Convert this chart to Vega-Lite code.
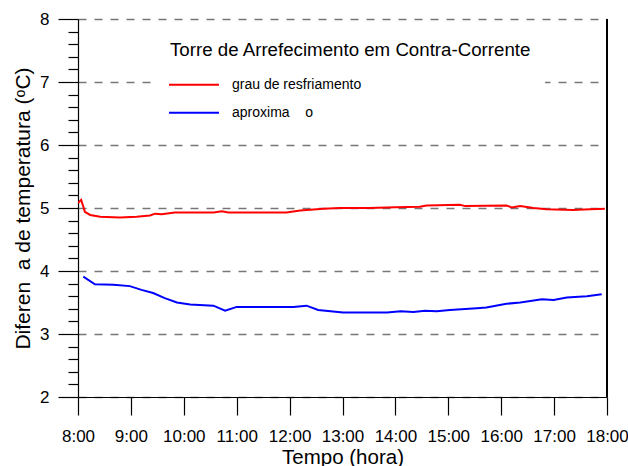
{
  "$schema": "https://vega.github.io/schema/vega-lite/v6.json",
  "width": 529,
  "height": 378,
  "autosize": "none",
  "padding": {"left": 78, "top": 19, "right": 21, "bottom": 69},
  "background": "white",
  "config": {
    "view": {"stroke": null},
    "font": "Liberation Sans"
  },
  "data": {
    "values": [
      {"t": 8.00, "v": 5.08, "serie": "grau de resfriamento"},
      {"t": 8.06, "v": 5.13, "serie": "grau de resfriamento"},
      {"t": 8.13, "v": 4.94, "serie": "grau de resfriamento"},
      {"t": 8.23, "v": 4.89, "serie": "grau de resfriamento"},
      {"t": 8.42, "v": 4.86, "serie": "grau de resfriamento"},
      {"t": 8.79, "v": 4.85, "serie": "grau de resfriamento"},
      {"t": 9.11, "v": 4.86, "serie": "grau de resfriamento"},
      {"t": 9.36, "v": 4.88, "serie": "grau de resfriamento"},
      {"t": 9.46, "v": 4.91, "serie": "grau de resfriamento"},
      {"t": 9.58, "v": 4.90, "serie": "grau de resfriamento"},
      {"t": 9.83, "v": 4.93, "serie": "grau de resfriamento"},
      {"t": 10.05, "v": 4.93, "serie": "grau de resfriamento"},
      {"t": 10.56, "v": 4.93, "serie": "grau de resfriamento"},
      {"t": 10.72, "v": 4.95, "serie": "grau de resfriamento"},
      {"t": 10.84, "v": 4.93, "serie": "grau de resfriamento"},
      {"t": 11.63, "v": 4.93, "serie": "grau de resfriamento"},
      {"t": 11.94, "v": 4.93, "serie": "grau de resfriamento"},
      {"t": 12.20, "v": 4.96, "serie": "grau de resfriamento"},
      {"t": 12.64, "v": 4.99, "serie": "grau de resfriamento"},
      {"t": 12.95, "v": 5.00, "serie": "grau de resfriamento"},
      {"t": 13.50, "v": 5.00, "serie": "grau de resfriamento"},
      {"t": 14.00, "v": 5.01, "serie": "grau de resfriamento"},
      {"t": 14.46, "v": 5.02, "serie": "grau de resfriamento"},
      {"t": 14.59, "v": 5.04, "serie": "grau de resfriamento"},
      {"t": 15.22, "v": 5.05, "serie": "grau de resfriamento"},
      {"t": 15.32, "v": 5.03, "serie": "grau de resfriamento"},
      {"t": 16.10, "v": 5.04, "serie": "grau de resfriamento"},
      {"t": 16.20, "v": 5.01, "serie": "grau de resfriamento"},
      {"t": 16.36, "v": 5.03, "serie": "grau de resfriamento"},
      {"t": 16.61, "v": 5.00, "serie": "grau de resfriamento"},
      {"t": 16.86, "v": 4.98, "serie": "grau de resfriamento"},
      {"t": 17.36, "v": 4.97, "serie": "grau de resfriamento"},
      {"t": 17.68, "v": 4.98, "serie": "grau de resfriamento"},
      {"t": 17.96, "v": 4.99, "serie": "grau de resfriamento"},
      {"t": 8.10, "v": 3.91, "serie": "aproxima\u00a0\u00a0\u00a0\u00a0o"},
      {"t": 8.32, "v": 3.79, "serie": "aproxima\u00a0\u00a0\u00a0\u00a0o"},
      {"t": 8.67, "v": 3.78, "serie": "aproxima\u00a0\u00a0\u00a0\u00a0o"},
      {"t": 8.98, "v": 3.76, "serie": "aproxima\u00a0\u00a0\u00a0\u00a0o"},
      {"t": 9.20, "v": 3.70, "serie": "aproxima\u00a0\u00a0\u00a0\u00a0o"},
      {"t": 9.42, "v": 3.65, "serie": "aproxima\u00a0\u00a0\u00a0\u00a0o"},
      {"t": 9.64, "v": 3.57, "serie": "aproxima\u00a0\u00a0\u00a0\u00a0o"},
      {"t": 9.87, "v": 3.50, "serie": "aproxima\u00a0\u00a0\u00a0\u00a0o"},
      {"t": 10.12, "v": 3.47, "serie": "aproxima\u00a0\u00a0\u00a0\u00a0o"},
      {"t": 10.56, "v": 3.45, "serie": "aproxima\u00a0\u00a0\u00a0\u00a0o"},
      {"t": 10.78, "v": 3.37, "serie": "aproxima\u00a0\u00a0\u00a0\u00a0o"},
      {"t": 11.00, "v": 3.43, "serie": "aproxima\u00a0\u00a0\u00a0\u00a0o"},
      {"t": 12.07, "v": 3.43, "serie": "aproxima\u00a0\u00a0\u00a0\u00a0o"},
      {"t": 12.32, "v": 3.45, "serie": "aproxima\u00a0\u00a0\u00a0\u00a0o"},
      {"t": 12.54, "v": 3.38, "serie": "aproxima\u00a0\u00a0\u00a0\u00a0o"},
      {"t": 13.01, "v": 3.34, "serie": "aproxima\u00a0\u00a0\u00a0\u00a0o"},
      {"t": 13.84, "v": 3.34, "serie": "aproxima\u00a0\u00a0\u00a0\u00a0o"},
      {"t": 14.10, "v": 3.36, "serie": "aproxima\u00a0\u00a0\u00a0\u00a0o"},
      {"t": 14.34, "v": 3.35, "serie": "aproxima\u00a0\u00a0\u00a0\u00a0o"},
      {"t": 14.56, "v": 3.37, "serie": "aproxima\u00a0\u00a0\u00a0\u00a0o"},
      {"t": 14.78, "v": 3.36, "serie": "aproxima\u00a0\u00a0\u00a0\u00a0o"},
      {"t": 15.03, "v": 3.38, "serie": "aproxima\u00a0\u00a0\u00a0\u00a0o"},
      {"t": 15.54, "v": 3.41, "serie": "aproxima\u00a0\u00a0\u00a0\u00a0o"},
      {"t": 15.72, "v": 3.42, "serie": "aproxima\u00a0\u00a0\u00a0\u00a0o"},
      {"t": 16.10, "v": 3.48, "serie": "aproxima\u00a0\u00a0\u00a0\u00a0o"},
      {"t": 16.36, "v": 3.50, "serie": "aproxima\u00a0\u00a0\u00a0\u00a0o"},
      {"t": 16.77, "v": 3.55, "serie": "aproxima\u00a0\u00a0\u00a0\u00a0o"},
      {"t": 16.99, "v": 3.54, "serie": "aproxima\u00a0\u00a0\u00a0\u00a0o"},
      {"t": 17.24, "v": 3.58, "serie": "aproxima\u00a0\u00a0\u00a0\u00a0o"},
      {"t": 17.62, "v": 3.60, "serie": "aproxima\u00a0\u00a0\u00a0\u00a0o"},
      {"t": 17.90, "v": 3.63, "serie": "aproxima\u00a0\u00a0\u00a0\u00a0o"}
    ]
  },
  "layer": [
    {
      "mark": {"type": "line", "strokeWidth": 2, "clip": true},
      "encoding": {
        "x": {
          "field": "t",
          "type": "quantitative",
          "scale": {"domain": [8, 18], "nice": false, "zero": false},
          "axis": {
            "values": [8, 8.5, 9, 9.5, 10, 10.5, 11, 11.5, 12, 12.5, 13, 13.5, 14, 14.5, 15, 15.5, 16, 16.5, 17, 17.5, 18],
            "labelExpr": "abs(datum.value - round(datum.value)) < 0.01 ? round(datum.value) + ':00' : ''",
            "tickSize": {"condition": {"test": "abs(datum.value - round(datum.value)) < 0.01", "value": 18}, "value": 9},
            "tickColor": "black",
            "tickWidth": 1.2,
            "domainColor": "black",
            "domainWidth": 1.2,
            "grid": false,
            "labelFont": "Liberation Sans",
            "labelFontSize": 17,
            "labelColor": "black",
            "labelPadding": 13,
            "labelFlush": false,
            "labelOverlap": false,
            "title": "Tempo (hora)",
            "titleFont": "Liberation Sans",
            "titleFontSize": 20.5,
            "titleFontWeight": "normal",
            "titleColor": "black",
            "titlePadding": 3
          }
        },
        "y": {
          "field": "v",
          "type": "quantitative",
          "scale": {"domain": [2, 8], "nice": false, "zero": false},
          "axis": {
            "values": [2, 2.2, 2.4, 2.6, 2.8, 3, 3.2, 3.4, 3.6, 3.8, 4, 4.2, 4.4, 4.6, 4.8, 5, 5.2, 5.4, 5.6, 5.8, 6, 6.2, 6.4, 6.6, 6.8, 7, 7.2, 7.4, 7.6, 7.8, 8],
            "labelExpr": "abs(datum.value - round(datum.value)) < 0.01 ? '' + round(datum.value) : ''",
            "tickSize": {"condition": {"test": "abs(datum.value - round(datum.value)) < 0.01", "value": 20}, "value": 10},
            "tickColor": "black",
            "tickWidth": 1.2,
            "domainColor": "black",
            "domainWidth": 1.2,
            "grid": true,
            "gridColor": "#777777",
            "gridWidth": 1.5,
            "gridDash": [8, 8],
            "gridOpacity": {"condition": {"test": "abs(datum.value - round(datum.value)) < 0.01", "value": 1}, "value": 0},
            "labelFont": "Liberation Sans",
            "labelFontSize": 17,
            "labelColor": "black",
            "labelPadding": 9,
            "labelFlush": false,
            "labelOverlap": false,
            "title": "Diferen\u00a0\u00a0a de temperatura (\u1d52C)",
            "titleFont": "Liberation Sans",
            "titleFontSize": 21,
            "titleFontWeight": "normal",
            "titleColor": "black",
            "titlePadding": 6
          }
        },
        "color": {
          "field": "serie",
          "type": "nominal",
          "scale": {
            "domain": ["grau de resfriamento", "aproxima\u00a0\u00a0\u00a0\u00a0o"],
            "range": ["#ff0000", "#0000ff"]
          },
          "legend": {
            "orient": "none",
            "legendX": 79,
            "legendY": 9,
            "title": "Torre de Arrefecimento em Contra-Corrente",
            "titleFont": "Liberation Sans",
            "titleFontSize": 18.7,
            "titleFontWeight": "normal",
            "titleColor": "black",
            "titleLimit": 600,
            "titlePadding": 14,
            "fillColor": "white",
            "strokeColor": null,
            "padding": 13,
            "symbolType": "M-1.2,0H3.8",
            "symbolSize": 400,
            "symbolStrokeWidth": 2,
            "labelFont": "Liberation Sans",
            "labelFontSize": 14,
            "labelColor": "black",
            "labelLimit": 400,
            "labelOffset": 40,
            "rowPadding": 10
          }
        }
      }
    },
    {
      "mark": {"type": "rule", "color": "black", "strokeWidth": 1.2},
      "encoding": {"x": {"datum": 18}}
    }
  ]
}
